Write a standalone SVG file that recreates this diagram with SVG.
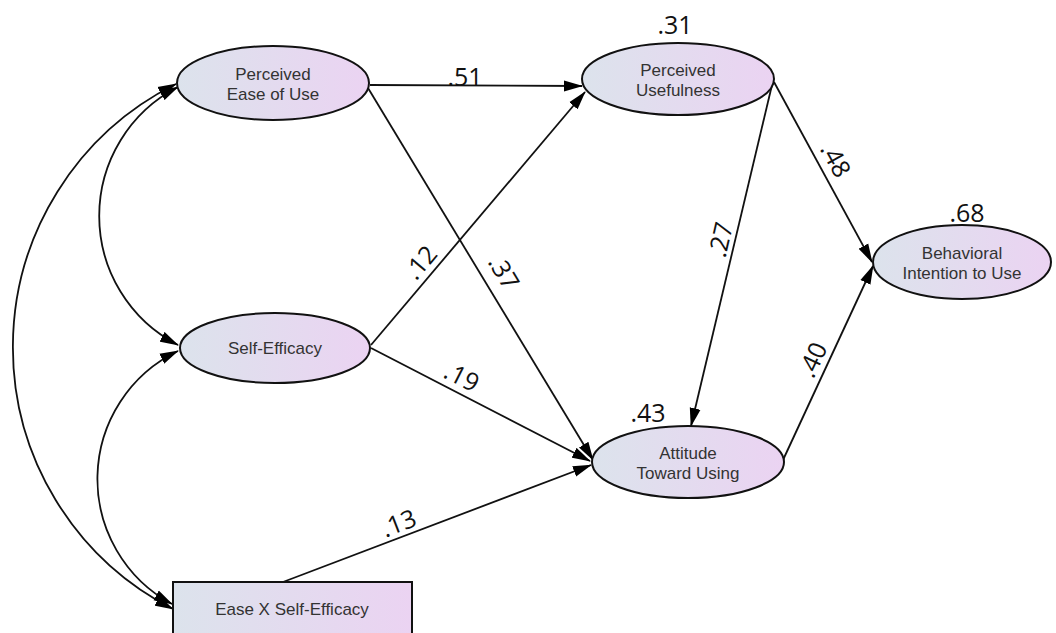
<svg xmlns="http://www.w3.org/2000/svg" width="1056" height="633" viewBox="0 0 1056 633">
<style>
.node{stroke:#111;stroke-width:2;fill:url(#g)}
.lbl{font-family:"Liberation Sans",Arial,sans-serif;font-size:17px;fill:#333;text-anchor:middle}
.coef{font-family:"Open Sans","DejaVu Sans",sans-serif;font-size:25px;fill:#111;text-anchor:middle}
.edge{stroke:#111;stroke-width:1.8;fill:none;marker-end:url(#ah)}
.cov{stroke:#111;stroke-width:1.8;fill:none;marker-end:url(#ah);marker-start:url(#ah)}
</style>
<defs>
<linearGradient id="g" x1="0" y1="0" x2="1" y2="0">
<stop offset="0" stop-color="#dce3ec"/>
<stop offset="1" stop-color="#ebd3f2"/>
</linearGradient>
<marker id="ah" markerUnits="userSpaceOnUse" markerWidth="19" markerHeight="12" refX="18" refY="5.5" orient="auto-start-reverse" viewBox="0 0 19 11">
<path d="M0,0 L19,5.5 L0,11 z" fill="#000"/>
</marker>
</defs>
<rect width="1056" height="633" fill="#fff"/>
<g id="connectors">
<path class="cov" d="M176,84 A294,294 0 0 0 173,609"/>
<path class="cov" d="M178,87 A145,145 0 0 0 178,345"/>
<path class="cov" d="M178,351 A142,142 0 0 0 172,604"/>
<path class="edge" d="M370,85 L582,86"/>
<path class="edge" d="M368,88 L593,460"/>
<path class="edge" d="M371,345 L585,92"/>
<path class="edge" d="M371,348 L590,461"/>
<path class="edge" d="M283,582 L591,465"/>
<path class="edge" d="M772,85 L691,426"/>
<path class="edge" d="M774,82 L872,262"/>
<path class="edge" d="M783,460 L873,266"/>
<text class="coef" x="465" y="86">.51</text>
<text class="coef" transform="translate(432,272) rotate(-50)" dy="-6">.12</text>
<text class="coef" transform="translate(486,283) rotate(59)" dy="-12">.37</text>
<text class="coef" transform="translate(455,390) rotate(27)" dy="-6">.19</text>
<text class="coef" transform="translate(404,537) rotate(-21)" dy="-6">.13</text>
<text class="coef" transform="translate(735,243) rotate(-77)" dy="-6">.27</text>
<text class="coef" transform="translate(821,168) rotate(61)" dy="-8">.48</text>
<text class="coef" transform="translate(826,366) rotate(-65)" dy="-6">.40</text>
</g>
<g id="peou">
<ellipse class="node" cx="273" cy="83" rx="96" ry="37"/>
<text class="lbl" x="273" y="80">Perceived</text>
<text class="lbl" x="273" y="100">Ease of Use</text>
</g>
<g id="pu">
<ellipse class="node" cx="678" cy="79" rx="96" ry="36"/>
<text class="lbl" x="678" y="76">Perceived</text>
<text class="lbl" x="678" y="96">Usefulness</text>
<text class="coef" x="675" y="34">.31</text>
</g>
<g id="se">
<ellipse class="node" cx="275" cy="348" rx="95" ry="35"/>
<text class="lbl" x="275" y="354">Self-Efficacy</text>
</g>
<g id="atu">
<ellipse class="node" cx="688" cy="462" rx="96" ry="36"/>
<text class="lbl" x="688" y="459">Attitude</text>
<text class="lbl" x="688" y="479">Toward Using</text>
<text class="coef" x="648" y="422">.43</text>
</g>
<g id="bi">
<ellipse class="node" cx="962" cy="262" rx="89" ry="37"/>
<text class="lbl" x="962" y="259">Behavioral</text>
<text class="lbl" x="962" y="279">Intention to Use</text>
<text class="coef" x="967" y="222">.68</text>
</g>
<g id="exse">
<rect class="node" x="173" y="582" width="239" height="70"/>
<text class="lbl" x="292" y="615">Ease X Self-Efficacy</text>
</g>
</svg>
